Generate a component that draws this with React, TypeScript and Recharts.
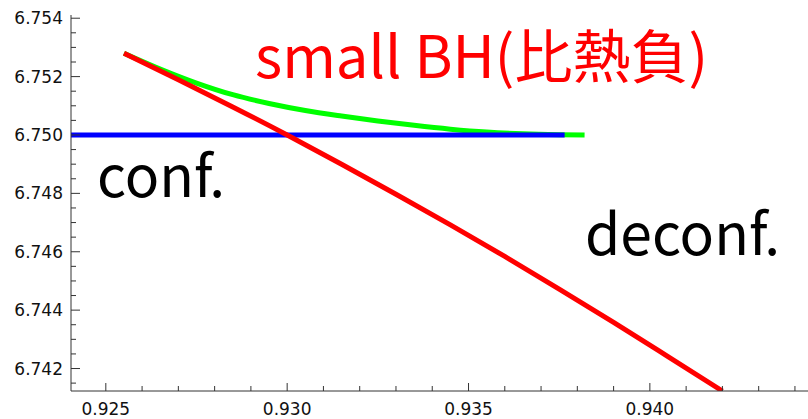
import { Customized, Line, LineChart, XAxis, YAxis } from "recharts";

// x positions of the curves and their values
const redX = [0.9255, 0.927, 0.9285, 0.93, 0.9315, 0.933, 0.9345, 0.936, 0.9375, 0.939, 0.9405, 0.942];
const redY = [6.7528, 6.75189, 6.75096, 6.75, 6.749, 6.74797, 6.74692, 6.74584, 6.74472, 6.74358, 6.74241, 6.74123];

const greenX = [0.9255, 0.9265, 0.9275, 0.9285, 0.9295, 0.9305, 0.9315, 0.9325, 0.9335, 0.9345, 0.9355, 0.9365, 0.9375, 0.9382];
const greenY = [6.7528, 6.75226, 6.75178, 6.75138, 6.75108, 6.75084, 6.75065, 6.75048, 6.75033, 6.7502, 6.7501, 6.75004, 6.75001, 6.75];

const blueX = [0.92404, 0.93765];
const blueY = [6.75, 6.75];

const xMajorTicks = [0.925, 0.93, 0.935, 0.94];
const xAllTicks = [0.925, 0.926, 0.927, 0.928, 0.929, 0.93, 0.931, 0.932, 0.933, 0.934, 0.935, 0.936, 0.937, 0.938, 0.939, 0.94, 0.941, 0.942, 0.943, 0.944];
const yMajorTicks = [6.742, 6.744, 6.746, 6.748, 6.75, 6.752, 6.754];
const yAllTicks = [
  6.7415, 6.742, 6.7425, 6.743, 6.7435, 6.744, 6.7445, 6.745, 6.7455, 6.746, 6.7465, 6.747, 6.7475,
  6.748, 6.7485, 6.749, 6.7495, 6.75, 6.7505, 6.751, 6.7515, 6.752, 6.7525, 6.753, 6.7535, 6.754,
];

const toRows = (xs: number[], ys: number[]) => xs.map((x, i) => ({ x, y: ys[i] }));
const redData = toRows(redX, redY);
const greenData = toRows(greenX, greenY);
const blueData = toRows(blueX, blueY);

const isMajor = (v: number, list: number[]) => list.some((m) => Math.abs(m - v) < 1e-7);

const AXIS = "#333";
const LABEL_FONT = "'DejaVu Sans', Verdana, sans-serif";
const NOTE_FONT = "'Noto Sans CJK JP', 'Noto Sans', sans-serif";

function XTick(props: any) {
  const { x, y, payload } = props;
  const major = isMajor(payload.value, xMajorTicks);
  return (
    <g>
      <line x1={x} x2={x} y1={y} y2={y - (major ? 8 : 5)} stroke={AXIS} strokeWidth={1} />
      {major && (
        <text x={x} y={y + 24} textAnchor="middle" fontSize={17} fontFamily={LABEL_FONT} fill="#111">
          {payload.value.toFixed(3)}
        </text>
      )}
    </g>
  );
}

function YTick(props: any) {
  const { x, y, payload } = props;
  const major = isMajor(payload.value, yMajorTicks);
  return (
    <g>
      <line x1={x} x2={x + (major ? 9 : 5)} y1={y} y2={y} stroke={AXIS} strokeWidth={1} />
      {major && (
        <text x={x - 8} y={y + 6} textAnchor="end" fontSize={17} fontFamily={LABEL_FONT} fill="#111">
          {payload.value.toFixed(3)}
        </text>
      )}
    </g>
  );
}

function Notes() {
  return (
    <g fontFamily={NOTE_FONT}>
      <text x={255} y={78} fontSize={58} fill="#ff0000">small BH(比熱負)</text>
      <text x={97} y={197} fontSize={57} fill="#000">conf.</text>
      <text x={585} y={255} fontSize={57} fill="#000">deconf.</text>
    </g>
  );
}

export default function App() {
  return (
    <div style={{ position: "absolute", left: 0, top: 0, width: 808, height: 419, background: "#fff" }}>
      <LineChart width={808} height={419} margin={{ top: 15, right: 0, left: 0, bottom: 0 }}>
        <XAxis
          type="number"
          dataKey="x"
          domain={[0.92404, 0.94436]}
          allowDataOverflow
          ticks={xAllTicks}
          interval={0}
          tickSize={0}
          tickMargin={0}
          tickLine={false}
          tick={<XTick />}
          height={28}
          stroke={AXIS}
        />
        <YAxis
          type="number"
          dataKey="y"
          domain={[6.74123, 6.75411]}
          allowDataOverflow
          ticks={yAllTicks}
          interval={0}
          tickSize={0}
          tickMargin={0}
          tickLine={false}
          tick={<YTick />}
          width={71}
          stroke={AXIS}
        />
        <Line data={greenData} dataKey="y" type="monotone" stroke="#00ff00" strokeWidth={5} dot={false} isAnimationActive={false} />
        <Line data={blueData} dataKey="y" type="linear" stroke="#0000ff" strokeWidth={5} dot={false} isAnimationActive={false} />
        <Line data={redData} dataKey="y" type="monotone" stroke="#ff0000" strokeWidth={5} dot={false} isAnimationActive={false} />
        <Customized component={Notes} />
      </LineChart>
    </div>
  );
}
